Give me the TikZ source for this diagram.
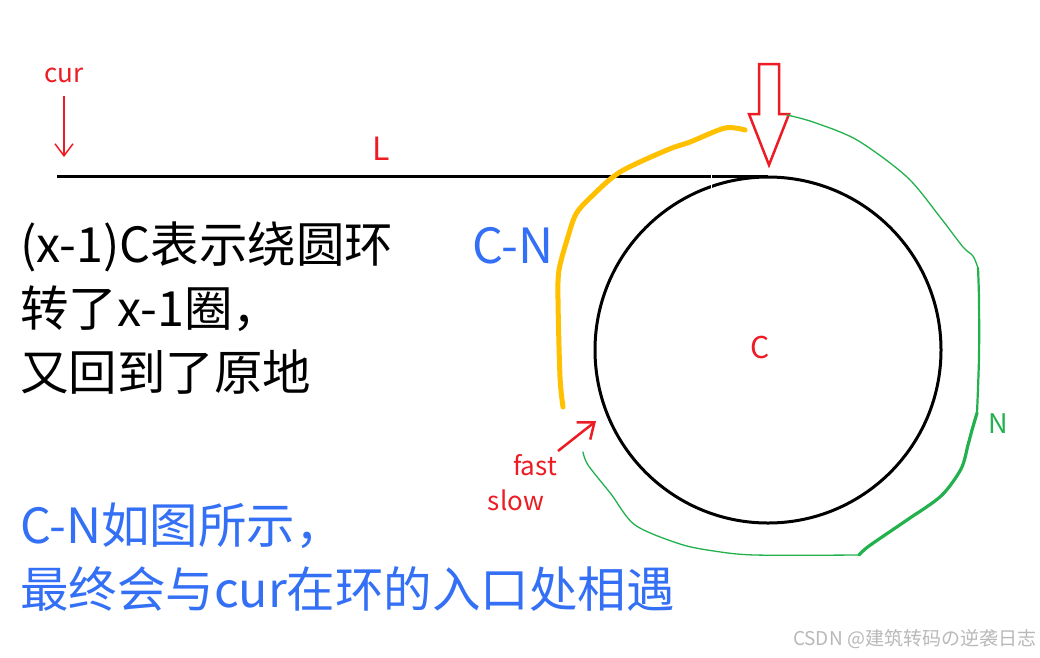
\documentclass[tikz,border=0pt]{standalone}
\usepackage{fontspec}
\setmainfont{Noto Sans CJK SC}
\usetikzlibrary{arrows.meta}
\definecolor{pred}{RGB}{237,28,36}
\definecolor{pyellow}{RGB}{255,192,0}
\definecolor{pgreen}{RGB}{34,177,76}
\definecolor{pblue}{RGB}{51,112,246}
\definecolor{pgray}{RGB}{185,185,185}
\begin{document}
\begin{tikzpicture}[x=1pt,y=-1pt,
  every node/.style={inner sep=0pt,outer sep=0pt},
  bigtxt/.style={font=\fontsize{48.5}{48.5}\selectfont,anchor=base west},
  smalltxt/.style={font=\fontsize{26}{26}\selectfont,text=pred,anchor=base},
  thinarrow/.style={draw=pred,line width=1.5pt,-{Straight Barb[length=12pt,width=18pt,line width=1.5pt]}},
  fastarrow/.style={draw=pred,line width=2.5pt,-{Straight Barb[length=14pt,width=22pt,line width=2.5pt]}},
  yellowpath/.style={draw=pyellow,line width=5pt,line cap=round,line join=round},
  greenthin/.style={draw=pgreen,line width=1.3pt,line cap=round,line join=round},
  greenmid/.style={draw=pgreen,line width=2.2pt,line cap=round,line join=round},
  greenthick/.style={draw=pgreen,line width=3.2pt,line cap=round,line join=round},
  blackline/.style={draw=black,line width=3pt}]
\useasboundingbox[fill=white] (0,0) rectangle (1040,657);

% main line and ring
\coordinate (start) at (57,176);
\coordinate (entry) at (768,176);
\node[circle,draw=black,line width=3pt,minimum size=346pt] (ring) at (768,350) {};
\draw[blackline] (start) -- (entry);
\coordinate (gapA) at (711.5,172);
\coordinate (gapB) at (711.5,189);
\draw[white,line width=1.2pt] (gapA) -- (gapB);

% cur pointer
\node[smalltxt] (cur) at (64,82) {cur};
\coordinate (curA) at (64,96);
\coordinate (curB) at (64,157);
\draw[thinarrow] (curA) -- (curB);
\node[font=\fontsize{32}{32}\selectfont,text=pred,anchor=base] (L) at (381,160) {L};

% hollow red arrow
\draw[pred,line width=2.5pt,line join=miter]
  (759,64) -- (779,64) -- (779,114) -- (789,114) -- (769,165) -- (749,114) -- (759,114) -- cycle;

% yellow C-N arc
\draw[yellowpath] plot[smooth,tension=0.5] coordinates {
  (745,130) (725,128) (690,142) (667,150) (620,172) (592,196) (576,214) (567,240)
  (559,270) (558,300) (560,377) (563,407)};
\node[font=\fontsize{48.5}{48.5}\selectfont,text=pblue,anchor=base west] (CN) at (472,263) {C-N};

% green N arc
\draw[greenthin] plot[smooth,tension=0.5] coordinates {
  (787,115) (813,122) (857,140) (907,177) (940,217) (963,247) (973,256) (978,268)};
\draw[greenmid] plot[smooth,tension=0.5] coordinates {
  (978,268) (979,300) (979,357) (977,413)};
\draw[greenthick] plot[smooth,tension=0.5] coordinates {
  (977,413) (972,430) (968,445) (961,469) (941,496) (907,520) (869,546) (859,555)};
\draw[greenthin] plot[smooth,tension=0.5] coordinates {
  (859,555) (755,555) (714,551) (680,544) (635,525) (611,494) (588,465) (583,452)};
\node[font=\fontsize{27}{27}\selectfont,text=pgreen] (N) at (998,424) {N};
\node[font=\fontsize{30}{30}\selectfont,text=pred] (C) at (760,347) {C};

% fast / slow
\coordinate (fastA) at (558,451);
\coordinate (fastB) at (596,421);
\draw[fastarrow] (fastA) -- (fastB);
\node[smalltxt] (fast) at (535,475) {fast};
\node[smalltxt] (slow) at (516,510) {slow};

% explanatory texts
\node[bigtxt] (t1) at (20,262) {(x-1)C表示绕圆环};
\node[bigtxt] (t2) at (20,326) {转了x-1圈，};
\node[bigtxt] (t3) at (20,390) {又回到了原地};
\node[bigtxt,text=pblue] (b1) at (20,543) {C-N如图所示，};
\node[bigtxt,text=pblue] (b2) at (20,607) {最终会与cur在环的入口处相遇};

% watermark
\node[font=\fontsize{19}{19}\selectfont,text=pgray,anchor=base east] (wm) at (1036,645) {CSDN @建筑转码の逆袭日志};
\end{tikzpicture}
\end{document}
